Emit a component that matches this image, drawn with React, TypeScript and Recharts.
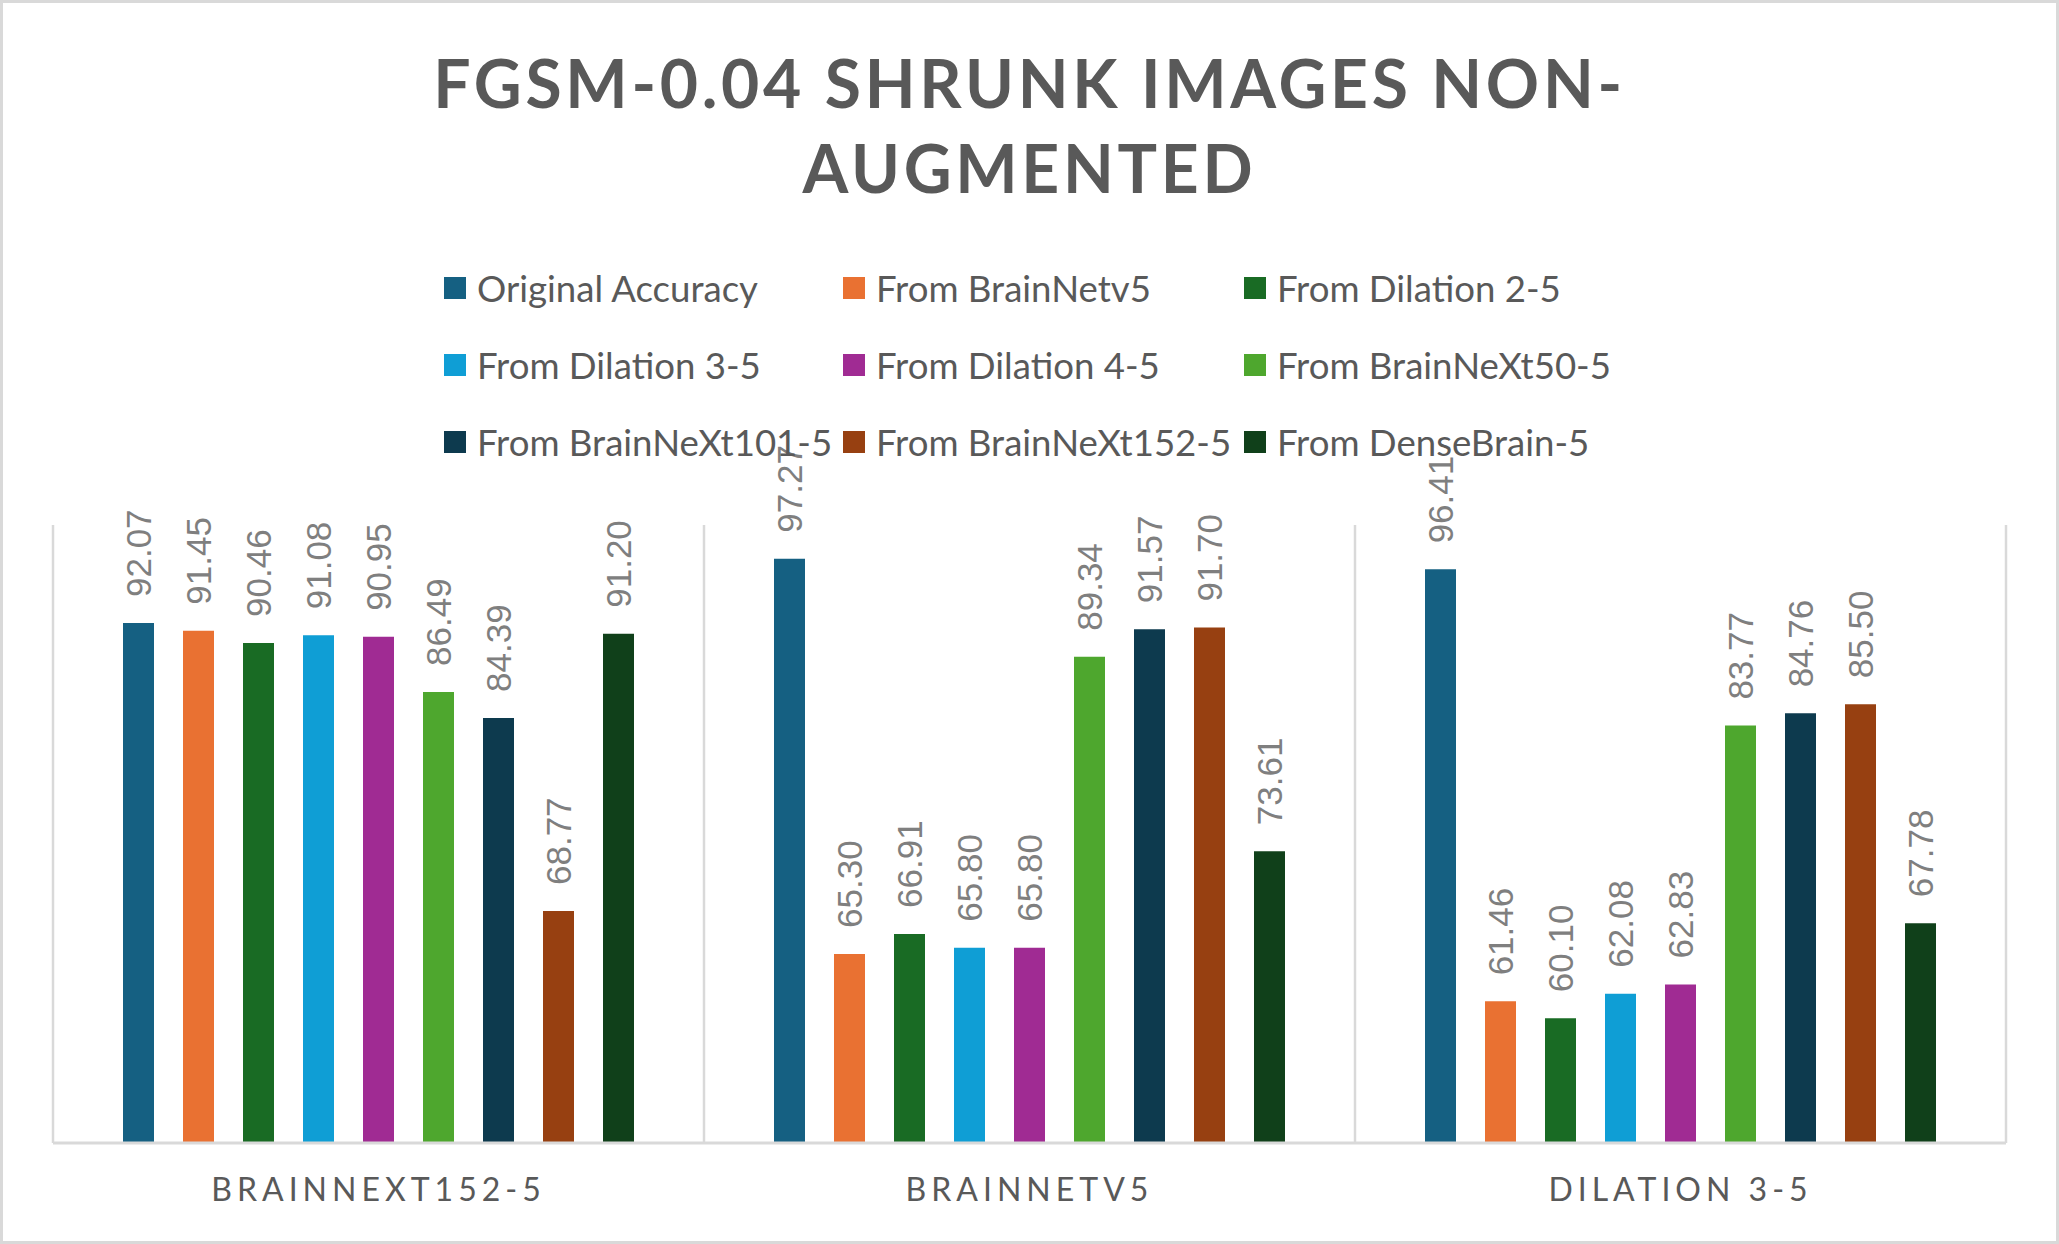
import React from 'react';
import { BarChart, Bar, XAxis, YAxis, CartesianGrid, LabelList } from 'recharts';

const categories = ['BRAINNEXT152-5', 'BRAINNETV5', 'DILATION 3-5'];
const seriesNames = [
  'Original Accuracy',
  'From BrainNetv5',
  'From Dilation 2-5',
  'From Dilation 3-5',
  'From Dilation 4-5',
  'From BrainNeXt50-5',
  'From BrainNeXt101-5',
  'From BrainNeXt152-5',
  'From DenseBrain-5',
];
const seriesColors = [
  '#156082', '#E97132', '#196B24', '#0F9ED5', '#A02B93',
  '#4EA72E', '#0D3A4E', '#974011', '#10401A',
];
const originalAccuracy = [92.07, 97.27, 96.41];
const fromBrainNetv5 = [91.45, 65.3, 61.46];
const fromDilation25 = [90.46, 66.91, 60.1];
const fromDilation35 = [91.08, 65.8, 62.08];
const fromDilation45 = [90.95, 65.8, 62.83];
const fromBrainNeXt50 = [86.49, 89.34, 83.77];
const fromBrainNeXt101 = [84.39, 91.57, 84.76];
const fromBrainNeXt152 = [68.77, 91.7, 85.5];
const fromDenseBrain = [91.2, 73.61, 67.78];

const seriesValues = [
  originalAccuracy, fromBrainNetv5, fromDilation25, fromDilation35, fromDilation45,
  fromBrainNeXt50, fromBrainNeXt101, fromBrainNeXt152, fromDenseBrain,
];

const data = categories.map((c, i) => {
  const row: any = { category: c, idx: i + 0.5 };
  seriesValues.forEach((vals, s) => {
    row['s' + s] = vals[i];
  });
  return row;
});

const W = 2059;
const H = 1244;

const renderLabel = (props: any) => {
  const { x, y, width, value } = props;
  const cx = Number(x) + Number(width) / 2;
  const ty = Number(y) - 26;
  return (
    <text
      x={cx}
      y={ty}
      transform={`rotate(-90, ${cx}, ${ty})`}
      textAnchor="start"
      dy="0.36em"
      fill="#7F7F7F"
      fontFamily="'Liberation Sans', Arial, sans-serif"
      fontSize={35}
    >
      {Number(value).toFixed(2)}
    </text>
  );
};

const renderTick = (props: any) => {
  const { x, y, payload } = props;
  return (
    <text
      x={x}
      y={y}
      dy={50}
      textAnchor="middle"
      fill="#595959"
      fontFamily="Lato, sans-serif"
      fontSize={32}
      letterSpacing={5}
    >
      {payload.value}
    </text>
  );
};

const legendCols = [444, 843, 1244];
const legendRows = [288, 365, 442];

export default function App() {
  return (
    <div style={{ position: 'absolute', left: 0, top: 0, width: W, height: H, background: '#fff' }}>
      <div
        style={{
          position: 'absolute', left: 0, top: 0, width: W, height: H,
          boxSizing: 'border-box', border: '3px solid #d9d9d9', pointerEvents: 'none', zIndex: 5,
        }}
      />
      <div
        style={{
          position: 'absolute', left: 0, top: 40, width: W, textAlign: 'center',
          fontFamily: 'Lato, sans-serif', fontWeight: 700, fontSize: 66, color: '#595959',
          letterSpacing: 3.7, lineHeight: '85px',
        }}
      >
        <div>FGSM-0.04 SHRUNK IMAGES NON-</div>
        <div>AUGMENTED</div>
      </div>
      {seriesNames.map((name, i) => {
        const col = i % 3;
        const row = Math.floor(i / 3);
        return (
          <div
            key={name}
            style={{
              position: 'absolute', left: legendCols[col], top: legendRows[row] - 25, height: 50,
              display: 'flex', alignItems: 'center', fontFamily: 'Lato, sans-serif', fontSize: 36.6,
              color: '#595959', whiteSpace: 'nowrap', zIndex: 3,
            }}
          >
            <span style={{ display: 'inline-block', width: 22, height: 22, background: seriesColors[i], marginRight: 11 }} />
            <span>{name}</span>
          </div>
        );
      })}
      <div style={{ position: 'absolute', left: 0, top: 0 }}>
        <BarChart
          width={W}
          height={H}
          data={data}
          margin={{ top: 525, right: 53, bottom: 0, left: 53 }}
          barSize={31}
          barGap={29}
          barCategoryGap={70}
        >
          <XAxis xAxisId="grid" type="number" dataKey="idx" domain={[0, 3]} ticks={[0, 1, 2, 3]} hide />
          <CartesianGrid xAxisId="grid" horizontal={false} vertical stroke="#d9d9d9" strokeWidth={2.5} />
          <XAxis
            dataKey="category"
            height={101}
            axisLine={{ stroke: '#d9d9d9', strokeWidth: 3 }}
            tickLine={false}
            tick={renderTick}
            interval={0}
          />
          <YAxis hide domain={[50, 100]} />
          {seriesNames.map((name, s) => (
            <Bar key={name} dataKey={'s' + s} name={name} fill={seriesColors[s]} isAnimationActive={false}>
              <LabelList dataKey={'s' + s} content={renderLabel} />
            </Bar>
          ))}
        </BarChart>
      </div>
    </div>
  );
}
